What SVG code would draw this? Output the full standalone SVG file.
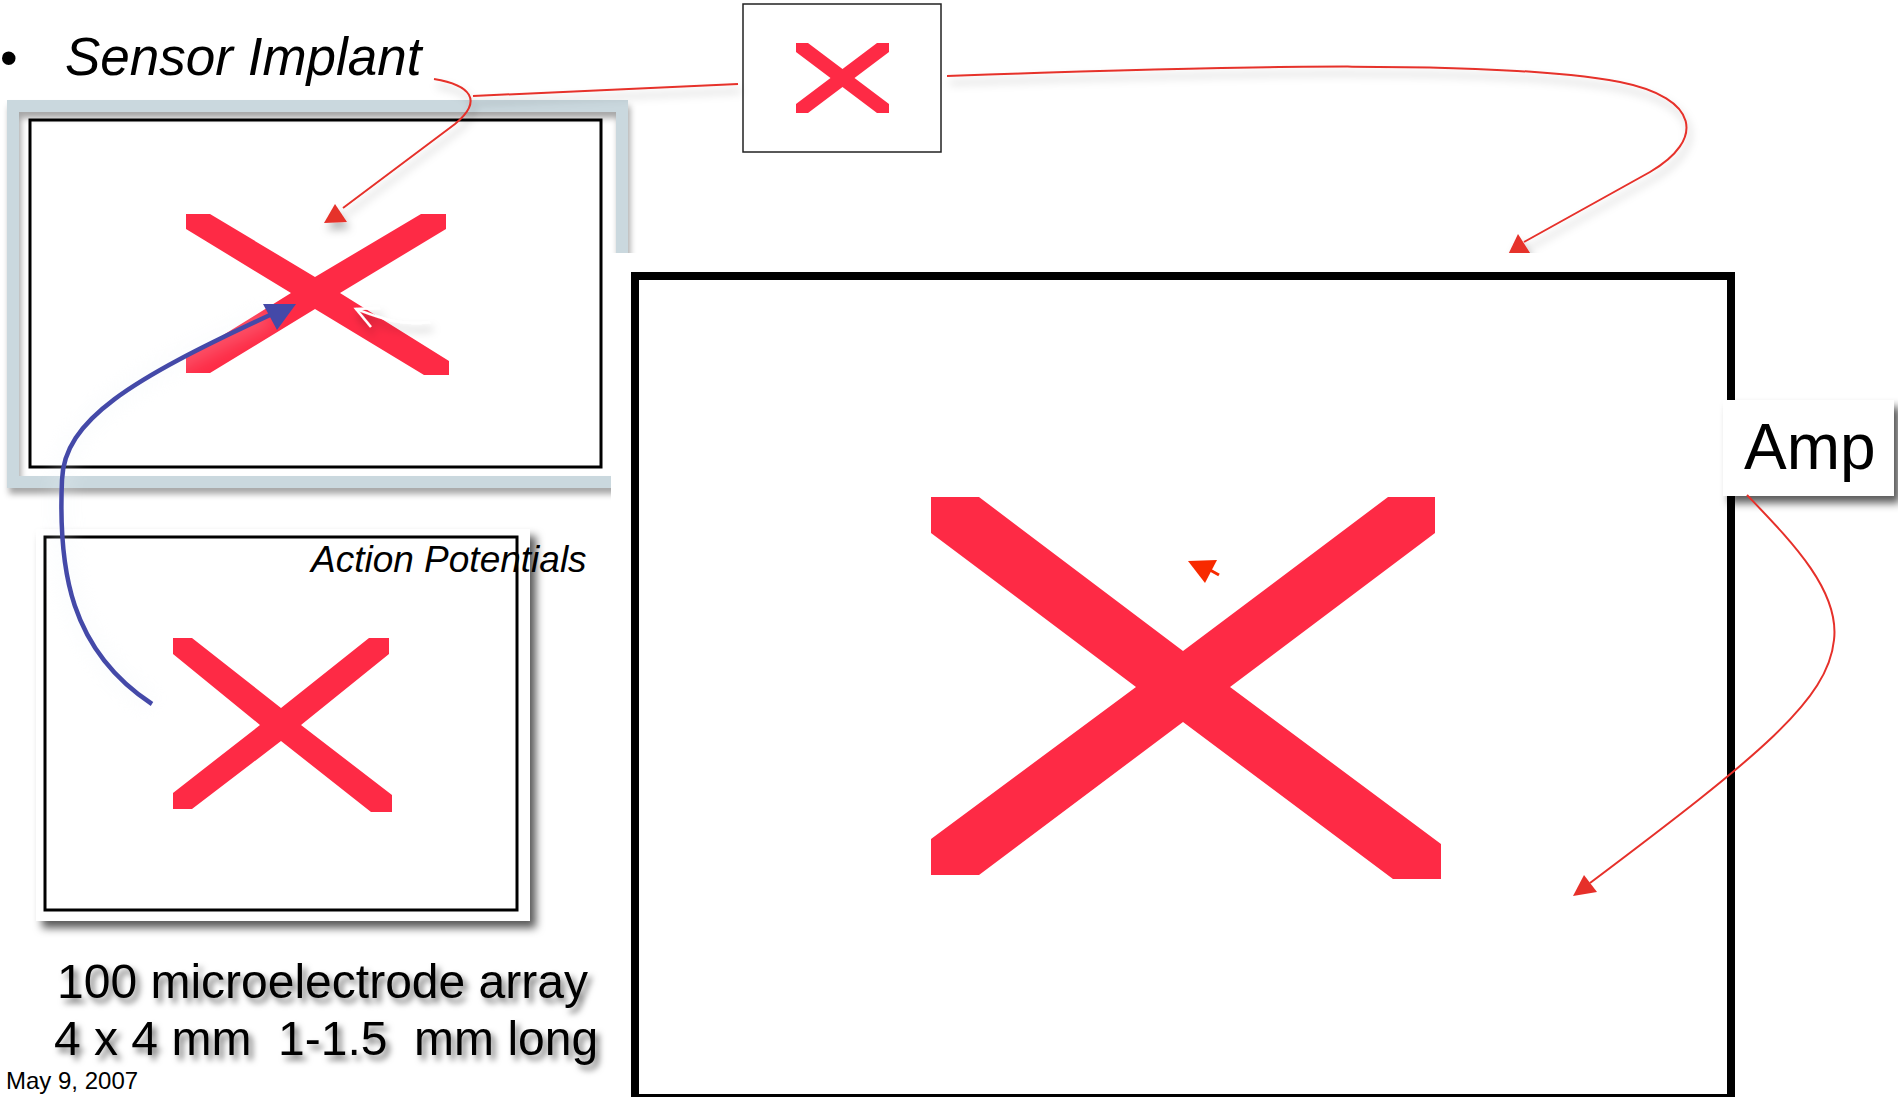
<svg xmlns="http://www.w3.org/2000/svg" width="1898" height="1097" viewBox="0 0 1898 1097">
<defs>
  <filter id="shConn" filterUnits="userSpaceOnUse" x="0" y="0" width="1898" height="1097">
    <feDropShadow dx="3" dy="7" stdDeviation="4" flood-color="#000" flood-opacity="0.28"/>
  </filter>
  <filter id="shBox" filterUnits="userSpaceOnUse" x="0" y="0" width="1898" height="1097">
    <feDropShadow dx="6" dy="7" stdDeviation="4" flood-color="#000" flood-opacity="0.65"/>
  </filter>
  <filter id="shFrame" filterUnits="userSpaceOnUse" x="0" y="0" width="1898" height="1097">
    <feDropShadow dx="2" dy="6" stdDeviation="3" flood-color="#000" flood-opacity="0.35"/>
  </filter>
  <filter id="shText" filterUnits="userSpaceOnUse" x="0" y="0" width="1898" height="1097">
    <feDropShadow dx="4" dy="5" stdDeviation="3" flood-color="#000" flood-opacity="0.55"/>
  </filter>
  <filter id="glow" filterUnits="userSpaceOnUse" x="0" y="0" width="1898" height="1097">
    <feGaussianBlur stdDeviation="9"/>
  </filter>
  <clipPath id="clipTop"><rect x="0" y="0" width="1898" height="253"/></clipPath>
</defs>
<style>
  .x{fill:#fe2a45}
  .conn{fill:none;stroke:#e6302a;stroke-width:2}
  .head{fill:#e6302a}
  .sans{font-family:"Liberation Sans",Arial,sans-serif}
  .frame{fill:none;stroke:#000;stroke-width:3}
</style>
<rect x="0" y="0" width="1898" height="1097" fill="#fff"/>

<g id="title">
  <text class="sans" x="0" y="75" font-size="50">•</text>
  <text class="sans" x="65" y="75" font-size="53" font-style="italic">Sensor Implant</text>
</g>

<g id="implant-photo">
  <rect x="13" y="106" width="609" height="376" fill="none" stroke="#cad8de" stroke-width="12" filter="url(#shFrame)"/>
  <rect x="30" y="120" width="571" height="347" fill="#fff" class="frame"/>
  <polygon class="x" points="186,214 210,214 315,277 421,214 446,214 446,229 340,293 449,361 449,375 424,375 315,309 210,373 186,373 186,358 291,293 186,229"/>
</g>

<g id="top-box">
  <rect x="743" y="4" width="198" height="148" fill="#fff" stroke="#222" stroke-width="1.5"/>
  <polygon class="x" points="796,43 808,43 842.5,69 877,43 889,43 889,52 854.5,78 889,104 889,113 877,113 842.5,87 808,113 796,113 796,104 830.5,78 796,52"/>
</g>

<g id="action-potentials">
  <rect x="36" y="529" width="494" height="392" fill="#fff" filter="url(#shBox)"/>
  <rect x="45" y="537" width="472" height="373" fill="#fff" class="frame"/>
  <polygon class="x" points="173,638 192,638 281,708 369,638 389,638 389,654 301,725 392,795 392,812 371,812 281,741 192,809 173,809 173,793 260,725 173,654"/>
  <text class="sans" x="311" y="572" font-size="37" font-style="italic">Action Potentials</text>
</g>

<g id="array-label" filter="url(#shText)">
  <text class="sans" x="57" y="998" font-size="48">100 microelectrode array</text>
  <text class="sans" x="54" y="1055" font-size="48" xml:space="preserve">4 x 4 mm  1-1.5  mm long</text>
</g>

<g id="date">
  <text class="sans" x="6" y="1089" font-size="24">May 9, 2007</text>
</g>

<g id="big-view">
  <rect x="611" y="253" width="1287" height="844" fill="#fff"/>
  <rect x="635" y="276" width="1096" height="822" fill="#fff" stroke="#000" stroke-width="8"/>
  <polygon class="x" points="931,497 979,497 1183,651 1388,497 1435,497 1435,533 1230,687 1441,844 1441,879 1393,879 1183,722 979,875 931,875 931,839 1136,687 931,533"/>
</g>

<g id="amp">
  <rect x="1723" y="400" width="171" height="96" fill="#fff" filter="url(#shBox)"/>
  <text class="sans" x="1744" y="469" font-size="64">Amp</text>
</g>

<g id="connectors">
  <!-- soft glow under blue line -->
  <path d="M152,704 C70,650 58,570 62,480 C64,420 130,380 270,315" fill="none" stroke="#eef4f8" stroke-width="20" opacity="0.22" filter="url(#glow)"/>
  <path d="M152,704 C70,650 58,570 62,480 C64,420 130,380 270,315" fill="none" stroke="#4449a8" stroke-width="4.5"/>
  <polygon points="296,304 263,304 277,330" fill="#4449a8"/>

  <!-- white arrow -->
  <g filter="url(#shConn)">
    <path d="M356,309 C380,318 400,326 430,322" fill="none" stroke="#fff" stroke-width="2.5"/>
    <path d="M380,308 L356,309 L371,327" fill="none" stroke="#fff" stroke-width="2.5"/>
  </g>

  <!-- Sensor implant connector -->
  <g filter="url(#shConn)">
    <path class="conn" d="M738,84 L473,96"/>
    <path class="conn" d="M434,79 C470,85 484,100 455,124 L343,208"/>
    <polygon class="head" points="324,223 335,204 347,222"/>
  </g>

  <!-- top box to big view -->
  <g clip-path="url(#clipTop)">
    <g filter="url(#shConn)">
      <path class="conn" d="M947,76 C1250,65 1500,60 1620,82 C1700,98 1705,140 1650,172 L1524,242"/>
      <polygon class="head" points="1506,259 1518,234 1532,256"/>
    </g>
  </g>

  <!-- Amp connector -->
  <path class="conn" d="M1747,495 C1790,540 1840,590 1834,640 C1828,700 1760,755 1590,883"/>
  <polygon class="head" points="1573,896 1584,875 1597,892"/>

  <!-- small arrow inside big view -->
  <polygon points="1188,561 1217,560 1205,583" fill="#f82a00"/>
  <path d="M1210,570 L1219,575" stroke="#f82a00" stroke-width="3"/>
</g>
</svg>
